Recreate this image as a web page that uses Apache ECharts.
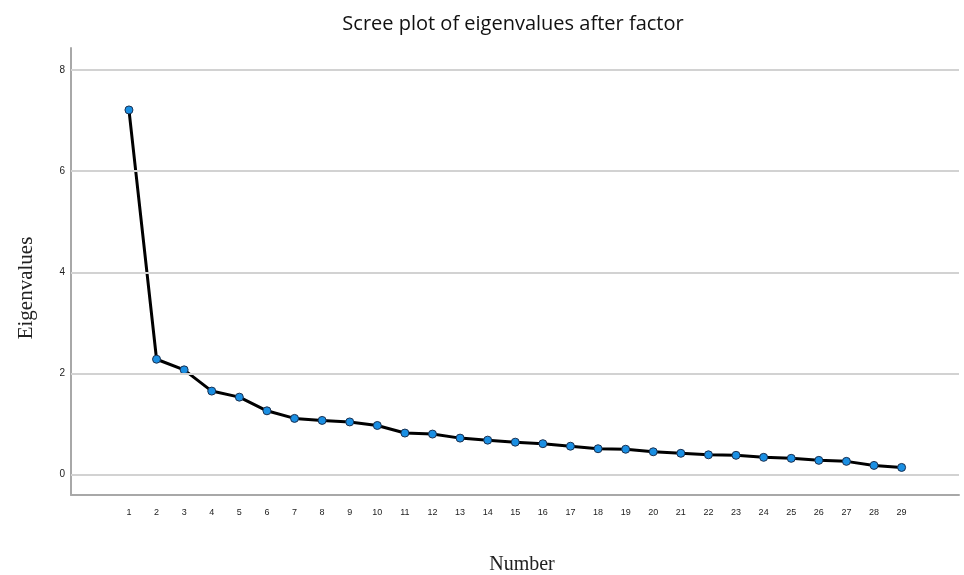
<!DOCTYPE html>
<html>
<head>
<meta charset="utf-8">
<script src="https://cdn.jsdelivr.net/npm/echarts@6/dist/echarts.min.js"></script>
<style>
html,body{margin:0;padding:0;background:#fff;}
#chart{width:964px;height:575px;}
</style>
</head>
<body>
<div id="chart"></div>
<script>
const componentNumbers = [1,2,3,4,5,6,7,8,9,10,11,12,13,14,15,16,17,18,19,20,21,22,23,24,25,26,27,28,29];
const eigenvalues = [7.21,2.28,2.07,1.65,1.53,1.26,1.11,1.07,1.04,0.97,0.82,0.80,0.72,0.68,0.64,0.61,0.56,0.51,0.50,0.45,0.42,0.39,0.38,0.34,0.32,0.28,0.26,0.18,0.14];
const yTickValues = [0,2,4,6,8];
const xTickValues = componentNumbers;
const titleText = 'Scree plot of eigenvalues after factor';
const xAxisTitle = 'Number';
const yAxisTitle = 'Eigenvalues';

const chart = echarts.init(document.getElementById('chart'));
chart.setOption({
  backgroundColor: '#ffffff',
  animation: false,
  title: {
    text: titleText,
    left: 508, top: 9, textAlign: 'center',
    textStyle: { fontFamily: 'Open Sans', fontSize: 20, fontWeight: 'normal', color: '#111' }
  },
  graphic: [
    { type: 'text', x: 522, y: 565, style: { text: xAxisTitle, font: '20px "Liberation Serif"', fill: '#222', textAlign: 'center', textVerticalAlign: 'middle' } },
    { type: 'text', x: 26, y: 288, rotation: Math.PI/2, style: { text: yAxisTitle, font: '21px "Liberation Serif"', fill: '#222', textAlign: 'center', textVerticalAlign: 'middle' } }
  ],
  grid: { left: 71, right: 5, top: 48, bottom: 80, containLabel: false },
  xAxis: {
    type: 'value', min: -1.10, max: 31.08,
    axisLine: { show: true, onZero: false, lineStyle: { color: '#a8a8a8', width: 2 } },
    axisTick: { show: false },
    splitLine: { show: false },
    axisLabel: { customValues: xTickValues, color: '#222', fontSize: 9, fontFamily: 'Liberation Sans', margin: 13 }
  },
  yAxis: {
    type: 'value', min: -0.405, max: 8.435,
    axisLine: { show: true, onZero: false, lineStyle: { color: '#a8a8a8', width: 2 } },
    axisTick: { show: false },
    splitLine: { show: false },
    axisLabel: { customValues: yTickValues, color: '#222', fontSize: 10, fontFamily: 'Liberation Sans', margin: 6 }
  },
  series: [
    {
      type: 'line', data: [], z: 1, silent: true,
      markLine: {
        silent: true, symbol: ['none','none'], label: { show: false },
        lineStyle: { color: '#d2d2d2', width: 2, type: 'solid' },
        data: yTickValues.map(v => ({ yAxis: v }))
      }
    },
    {
      type: 'line', z: 3,
      data: componentNumbers.map((n, i) => [n, eigenvalues[i]]),
      lineStyle: { color: '#000', width: 3 },
      symbol: 'circle', symbolSize: 8,
      itemStyle: { color: '#1a8fe3', borderColor: '#1a3050', borderWidth: 1 }
    }
  ]
});
</script>
</body>
</html>
